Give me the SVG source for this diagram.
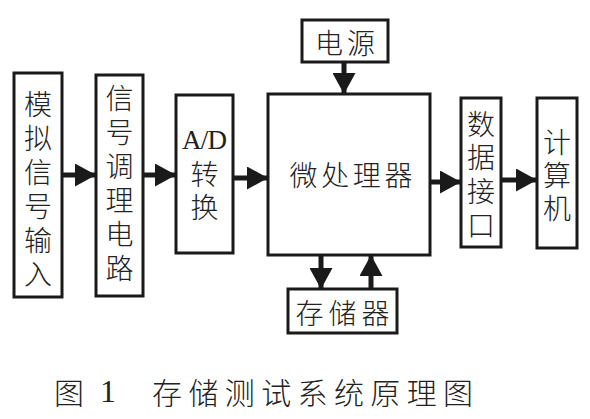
<svg xmlns="http://www.w3.org/2000/svg" width="590" height="419" viewBox="0 0 590 419">
<defs>
<style>
.box{fill:#fff;stroke:#1a1a1a;stroke-width:3}
.t{font-family:"Noto Sans CJK SC","Noto Sans",sans-serif;font-size:28px;font-weight:300;fill:#222;text-anchor:middle;dominant-baseline:central}
.conn line{stroke:#1a1a1a;stroke-width:5}
</style>
<marker id="ah" markerUnits="userSpaceOnUse" markerWidth="21" markerHeight="23" refX="21" refY="11.5" orient="auto">
<path d="M0,0 L21,11.5 L0,23 z" fill="#1a1a1a"/>
</marker>
</defs>
<rect width="590" height="419" fill="#fff"/>
<g id="n_input">
<rect class="box" x="14" y="73" width="48" height="224"/>
<text class="t"><tspan x="38" y="103">模</tspan><tspan x="38" y="137">拟</tspan><tspan x="38" y="171">信</tspan><tspan x="38" y="205">号</tspan><tspan x="38" y="239">输</tspan><tspan x="38" y="273">入</tspan></text>
</g>
<g id="n_cond">
<rect class="box" x="96" y="75" width="47" height="221"/>
<text class="t"><tspan x="119.5" y="97">信</tspan><tspan x="119.5" y="131">号</tspan><tspan x="119.5" y="165">调</tspan><tspan x="119.5" y="199">理</tspan><tspan x="119.5" y="233">电</tspan><tspan x="119.5" y="267">路</tspan></text>
</g>
<g id="n_ad">
<rect class="box" x="176" y="95" width="57" height="158"/>
<text class="t" x="204.5" y="140" style="font-family:'Liberation Serif',serif;font-size:27px;font-weight:400" textLength="45" lengthAdjust="spacing">A/D</text>
<text class="t"><tspan x="204.5" y="173">转</tspan><tspan x="204.5" y="206">换</tspan></text>
</g>
<g id="n_mcu">
<rect class="box" x="268" y="94" width="162" height="161"/>
<text class="t" x="351" y="174" textLength="123" lengthAdjust="spacing">微处理器</text>
</g>
<g id="n_power">
<rect class="box" x="302" y="20" width="86" height="42"/>
<text class="t" x="345" y="42" textLength="60" lengthAdjust="spacing">电源</text>
</g>
<g id="n_mem">
<rect class="box" x="288" y="289" width="109" height="44"/>
<text class="t" x="342.5" y="312" textLength="94" lengthAdjust="spacing">存储器</text>
</g>
<g id="n_port">
<rect class="box" x="461" y="98" width="40" height="149"/>
<text class="t"><tspan x="481" y="123">数</tspan><tspan x="481" y="156">据</tspan><tspan x="481" y="190">接</tspan><tspan x="481" y="224">口</tspan></text>
</g>
<g id="n_pc">
<rect class="box" x="537" y="98" width="40" height="150"/>
<text class="t"><tspan x="557" y="141">计</tspan><tspan x="557" y="174">算</tspan><tspan x="557" y="207">机</tspan></text>
</g>
<g id="connectors" class="conn">
<line x1="62" y1="175" x2="96" y2="175" marker-end="url(#ah)"/>
<line x1="143" y1="175" x2="176" y2="175" marker-end="url(#ah)"/>
<line x1="233" y1="178" x2="268" y2="178" marker-end="url(#ah)"/>
<line x1="430" y1="182" x2="461" y2="182" marker-end="url(#ah)"/>
<line x1="501" y1="180" x2="537" y2="180" marker-end="url(#ah)"/>
<line x1="344" y1="62" x2="344" y2="94" marker-end="url(#ah)"/>
<line x1="321" y1="255" x2="321" y2="289" marker-end="url(#ah)"/>
<line x1="371" y1="289" x2="371" y2="255" marker-end="url(#ah)"/>
</g>
<g id="caption">
<text class="t" x="69" y="391" style="font-size:30px">图</text>
<text class="t" x="108" y="391" style="font-family:'Liberation Serif',serif;font-size:32px;font-weight:400">1</text>
<text class="t" x="312.5" y="391" style="font-size:30px" textLength="321" lengthAdjust="spacing">存储测试系统原理图</text>
</g>
</svg>
